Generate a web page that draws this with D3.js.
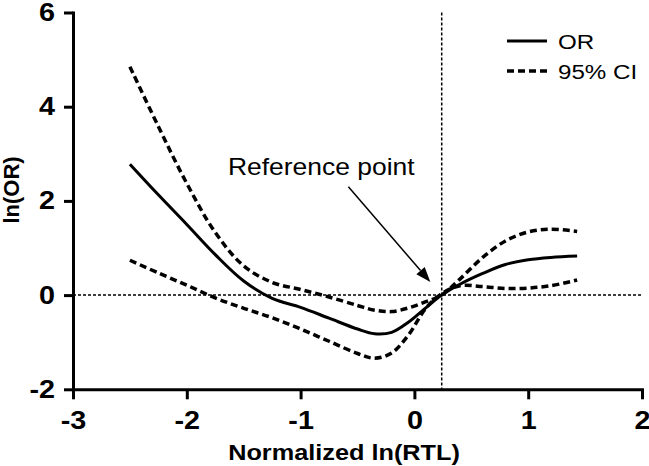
<!DOCTYPE html>
<html>
<head>
<meta charset="utf-8">
<script src="https://cdn.jsdelivr.net/npm/d3@7"></script>
<style>
  html, body { margin: 0; padding: 0; background: #fff; }
  svg { display: block; }
  text { font-family: "Liberation Sans", Arial, Helvetica, sans-serif; fill: #000; }
</style>
</head>
<body>
<svg id="chart" width="649" height="466"></svg>
<script>
// ---- data ----
const xValues = [-2.5, -2.25, -2.0, -1.75, -1.5, -1.25, -1.0, -0.75, -0.5, -0.35, -0.2, -0.05, 0.1, 0.24, 0.4, 0.6, 0.8, 1.0, 1.2, 1.43];
const orValues = [2.78, 2.13, 1.50, 0.86, 0.30, -0.07, -0.26, -0.49, -0.72, -0.82, -0.79, -0.57, -0.27, 0.0, 0.23, 0.46, 0.65, 0.75, 0.80, 0.83];
const ciUpper = [4.85, 3.58, 2.37, 1.33, 0.62, 0.27, 0.12, -0.04, -0.22, -0.32, -0.35, -0.27, -0.14, 0.0, 0.34, 0.80, 1.15, 1.34, 1.40, 1.35];
const ciLower = [0.74, 0.47, 0.21, -0.06, -0.28, -0.48, -0.72, -0.98, -1.24, -1.34, -1.23, -0.84, -0.28, 0.03, 0.20, 0.18, 0.14, 0.15, 0.20, 0.32];
const xTicks = [-3, -2, -1, 0, 1, 2];
const yTicks = [-2, 0, 2, 4, 6];
const refPoint = [0.24, 0];
const legendLabels = ["OR", "95% CI"];
const annotationText = "Reference point";
const xLabel = "Normalized ln(RTL)";
const yLabel = "ln(OR)";

// ---- layout ----
const svg = d3.select("#chart");
const SX = 1.15; // horizontal text stretch seen in the reference
const x = d3.scaleLinear().domain([-3, 2]).range([73, 642]);
const y = d3.scaleLinear().domain([-2, 6]).range([389.3, 12.5]);

// reference dotted lines
svg.append("line")
  .attr("x1", x(-3)).attr("x2", x(2))
  .attr("y1", y(refPoint[1])).attr("y2", y(refPoint[1]))
  .attr("stroke", "#000").attr("stroke-width", 1.5).attr("stroke-dasharray", "3,2");
svg.append("line")
  .attr("x1", x(refPoint[0])).attr("x2", x(refPoint[0]))
  .attr("y1", y(6)).attr("y2", y(-2))
  .attr("stroke", "#000").attr("stroke-width", 1.5).attr("stroke-dasharray", "3,2");

// curves
const mk = vals => d3.line()
  .x((d, i) => x(xValues[i]))
  .y(d => y(d))
  .curve(d3.curveCatmullRom.alpha(0.5))(vals);

svg.append("path").attr("d", mk(ciUpper)).attr("fill", "none")
  .attr("stroke", "#000").attr("stroke-width", 3.5).attr("stroke-dasharray", "7,4");
svg.append("path").attr("d", mk(ciLower)).attr("fill", "none")
  .attr("stroke", "#000").attr("stroke-width", 3.5).attr("stroke-dasharray", "7,4");
svg.append("path").attr("d", mk(orValues)).attr("fill", "none")
  .attr("stroke", "#000").attr("stroke-width", 3);

// axes
const fmt = d => String(d);
const gx = svg.append("g").attr("transform", `translate(0,${y(-2)})`)
  .call(d3.axisBottom(x).tickValues(xTicks).tickSize(10).tickSizeOuter(0).tickPadding(12).tickFormat(fmt));
const gy = svg.append("g").attr("transform", `translate(${x(-3)},0)`)
  .call(d3.axisLeft(y).tickValues(yTicks).tickSize(9).tickSizeOuter(0).tickPadding(9).tickFormat(fmt));

[gx, gy].forEach(g => {
  g.select(".domain").attr("stroke", "#000").attr("stroke-width", 3).attr("stroke-linecap", "square");
  g.selectAll(".tick line").attr("stroke", "#000").attr("stroke-width", 3);
  g.selectAll(".tick text")
    .attr("font-size", 25).attr("font-weight", "bold")
    .attr("font-family", "Liberation Sans, Arial, sans-serif")
    .attr("fill", "#000");
});
gx.selectAll(".tick text").attr("transform", `scale(${SX},1)`);
gy.selectAll(".tick text").attr("x", -18 / SX).attr("transform", `scale(${SX},1)`);

// axis titles
svg.append("text")
  .attr("transform", `translate(344,460) scale(${SX},1)`)
  .attr("text-anchor", "middle").attr("font-size", 22).attr("font-weight", "bold")
  .text(xLabel);
svg.append("text")
  .attr("transform", `translate(19,190) rotate(-90)`)
  .attr("text-anchor", "middle").attr("font-size", 22).attr("font-weight", "bold")
  .text(yLabel);

// annotation
svg.append("text")
  .attr("transform", `translate(${x(-1.638)},${y(2.55)}) scale(${SX},1)`)
  .attr("font-size", 23)
  .text(annotationText);

const ax1 = x(-0.58), ay1 = y(2.30), ax2 = x(0.14), ay2 = y(0.28);
const ang = Math.atan2(ay2 - ay1, ax2 - ax1);
const hl = 15, hw = 5.5;
const bx = ax2 - hl * Math.cos(ang), by = ay2 - hl * Math.sin(ang);
svg.append("line")
  .attr("x1", ax1).attr("y1", ay1).attr("x2", bx).attr("y2", by)
  .attr("stroke", "#000").attr("stroke-width", 1.5);
svg.append("path")
  .attr("d", `M${ax2},${ay2}L${bx + hw * Math.sin(ang)},${by - hw * Math.cos(ang)}L${bx - hw * Math.sin(ang)},${by + hw * Math.cos(ang)}Z`)
  .attr("fill", "#000");

// legend
const legend = svg.append("g");
legend.append("line").attr("x1", 507).attr("x2", 547).attr("y1", 41).attr("y2", 41)
  .attr("stroke", "#000").attr("stroke-width", 3);
legend.append("line").attr("x1", 507).attr("x2", 547).attr("y1", 71).attr("y2", 71)
  .attr("stroke", "#000").attr("stroke-width", 3.5).attr("stroke-dasharray", "7,4");
legend.selectAll("text.lg").data(legendLabels).enter().append("text")
  .attr("class", "lg")
  .attr("transform", (d, i) => `translate(558,${49 + i * 30}) scale(${SX},1)`)
  .attr("font-size", 21)
  .text(d => d);
</script>
</body>
</html>
